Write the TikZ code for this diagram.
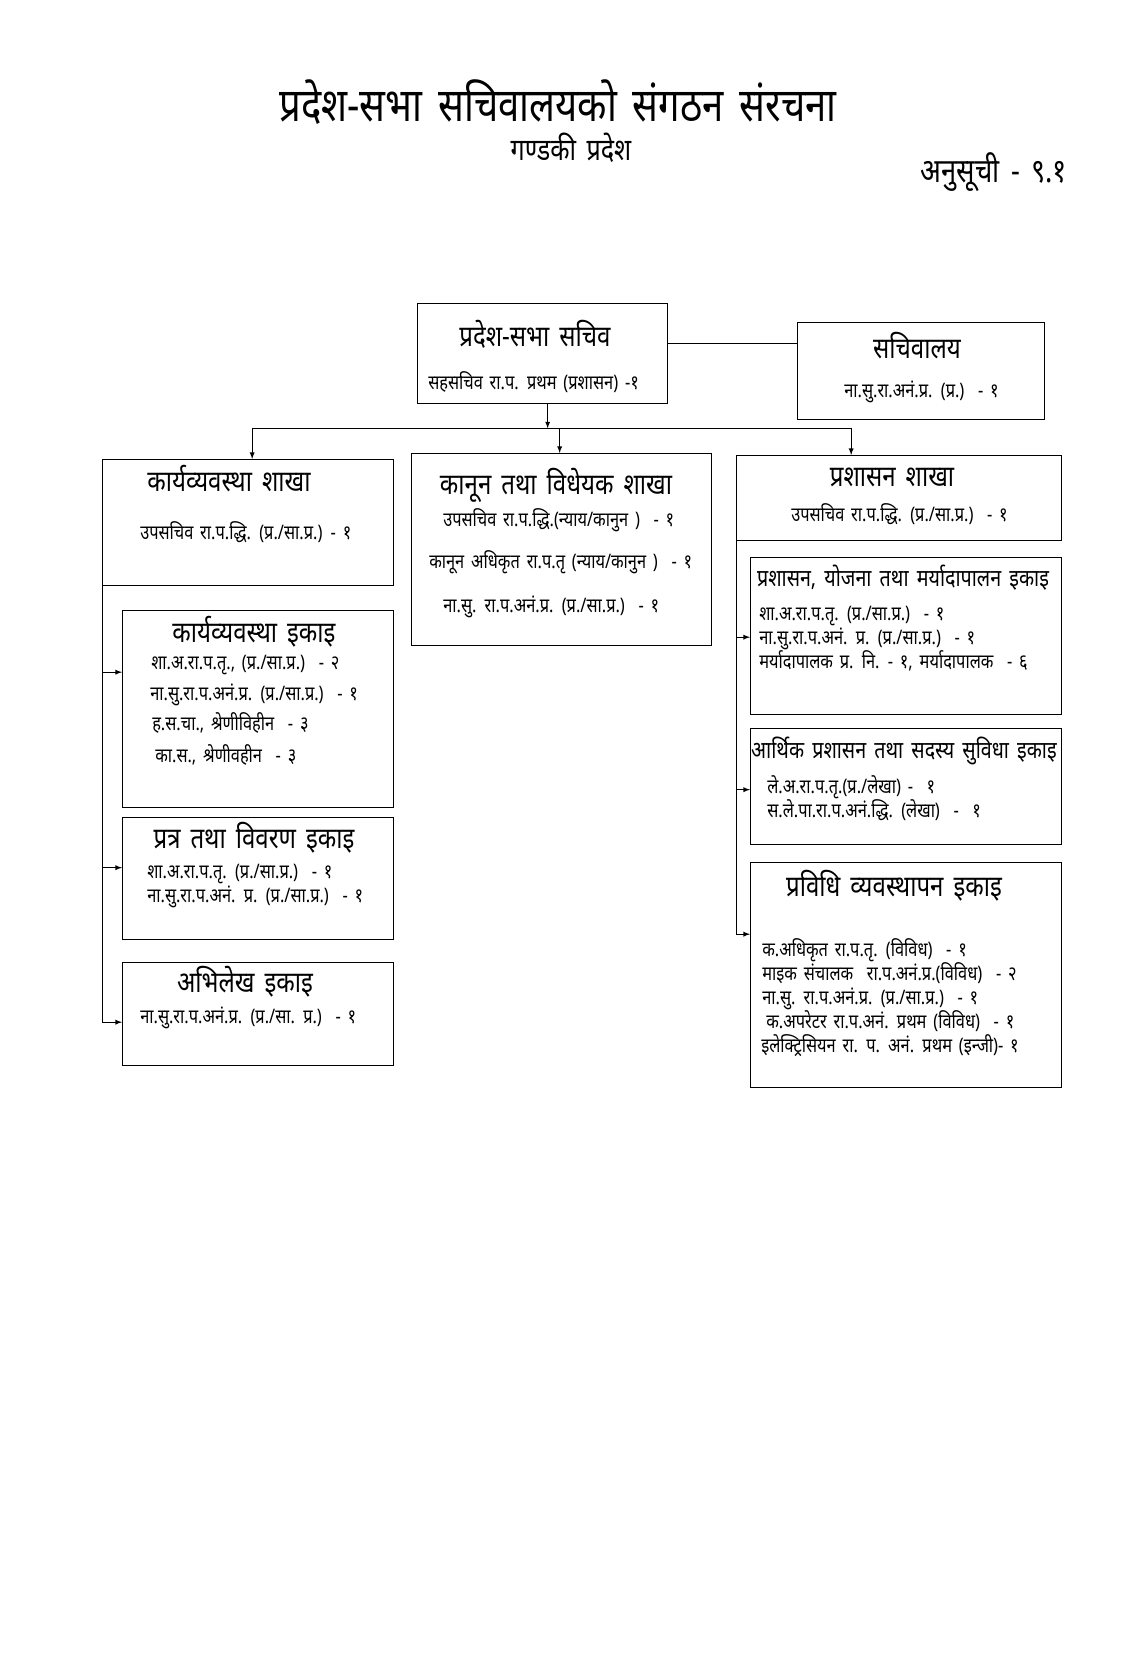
\documentclass[tikz,border=0pt]{standalone}
\usepackage{fontspec}
\newfontfamily\devfont[Script=Devanagari,FakeStretch=0.82,WordSpace=1.6]{Noto Sans}
\usetikzlibrary{calc}

\tikzset{
    box/.style 2 args={draw,line width=1pt,anchor=north west,inner sep=0pt,minimum width=#1*0.75pt,minimum height=#2*0.75pt},
    label/.style 2 args={font=\devfont\fontsize{#1}{#1}\selectfont,inner sep=0pt,text height=#2,text depth=0pt},
    head/.style={label={22}{13.6pt}},
    longhead/.style={label={18}{11.2pt}},
    entry/.style={label={15}{9.3pt},anchor=west},
    link/.style={line width=0.7pt}
}

\begin{document}
\begin{tikzpicture}[x=0.75pt,y=-0.75pt]
    \useasboundingbox (0,0) rectangle (1140,1654);

    % 1. Heading
    \node (ttl) at (558,107) [label={35}{21.5pt}] {प्रदेश-सभा सचिवालयको संगठन संरचना};
    \node (sub) at (571,151) [label={23}{14.5pt}] {गण्डकी प्रदेश};
    \node (anu) at (994,172) [label={25}{15.5pt}] {अनुसूची - ९.१};

    % 2. Top row (secretary, secretariat)
    \node (sab) at (417,303) [box={250}{100}] {};
    \node (sab-t) at (535,337) [head] {प्रदेश-सभा सचिव};
    \node (sab-1) at (428,383) [entry] {सहसचिव रा.प. प्रथम (प्रशासन) -१};

    \node (sal) at (797,322) [box={247}{97}] {};
    \node (sal-t) at (917,349) [head] {सचिवालय};
    \node (sal-1) at (844,391) [entry] {ना.सु.रा.अनं.प्र. (प्र.)\ \ - १};

    % 3. Branches
    \node (kvs) at (102,459) [box={291}{126}] {};
    \node (kvs-t) at (229,482) [head] {कार्यव्यवस्था शाखा};
    \node (kvs-1) at (140,533) [entry] {उपसचिव रा.प.द्धि. (प्र./सा.प्र.) - १};

    \node (kan) at (411,453) [box={300}{192}] {};
    \node (kan-t) at (556,485) [head] {कानून तथा विधेयक शाखा};
    \node (kan-1) at (443,520) [entry] {उपसचिव रा.प.द्धि.(न्याय/कानुन )\ \ - १};
    \node (kan-2) at (429,562) [entry] {कानून अधिकृत रा.प.तृ (न्याय/कानुन )\ \ - १};
    \node (kan-3) at (443,606) [entry] {ना.सु. रा.प.अनं.प्र. (प्र./सा.प्र.)\ \ - १};

    \node (pra) at (736,455) [box={325}{85}] {};
    \node (pra-t) at (892,477) [head] {प्रशासन शाखा};
    \node (pra-1) at (791,515) [entry] {उपसचिव रा.प.द्धि. (प्र./सा.प्र.)\ \ - १};

    % 4. Units under the left branch
    \node (kvi) at (122,610) [box={271}{197}] {};
    \node (kvi-t) at (254,633) [head] {कार्यव्यवस्था इकाइ};
    \node (kvi-1) at (151,663) [entry] {शा.अ.रा.प.तृ., (प्र./सा.प्र.)\ \ - २};
    \node (kvi-2) at (150,694) [entry] {ना.सु.रा.प.अनं.प्र. (प्र./सा.प्र.)\ \ - १};
    \node (kvi-3) at (152,724) [entry] {ह.स.चा., श्रेणीविहीन\ \ - ३};
    \node (kvi-4) at (155,756) [entry] {का.स., श्रेणीवहीन\ \ - ३};

    \node (pat) at (122,817) [box={271}{122}] {};
    \node (pat-t) at (254,839) [head] {प्रत्र तथा विवरण इकाइ};
    \node (pat-1) at (147,872) [entry] {शा.अ.रा.प.तृ. (प्र./सा.प्र.)\ \ - १};
    \node (pat-2) at (147,896) [entry] {ना.सु.रा.प.अनं. प्र. (प्र./सा.प्र.)\ \ - १};

    \node (abh) at (122,962) [box={271}{103}] {};
    \node (abh-t) at (245,983) [head] {अभिलेख इकाइ};
    \node (abh-1) at (140,1017) [entry] {ना.सु.रा.प.अनं.प्र. (प्र./सा. प्र.)\ \ - १};

    % 5. Units under the right branch
    \node (yoj) at (750,557) [box={311}{157}] {};
    \node (yoj-t) at (903,579) [longhead] {प्रशासन, योजना तथा मर्यादापालन इकाइ};
    \node (yoj-1) at (759,614) [entry] {शा.अ.रा.प.तृ. (प्र./सा.प्र.)\ \ - १};
    \node (yoj-2) at (759,638) [entry] {ना.सु.रा.प.अनं. प्र. (प्र./सा.प्र.)\ \ - १};
    \node (yoj-3) at (759,662) [entry] {मर्यादापालक प्र. नि. - १, मर्यादापालक\ \ - ६};

    \node (art) at (750,728) [box={311}{116}] {};
    \node (art-t) at (904,751) [longhead] {आर्थिक प्रशासन तथा सदस्य सुविधा इकाइ};
    \node (art-1) at (767,787) [entry] {ले.अ.रा.प.तृ.(प्र./लेखा) -\ \ १};
    \node (art-2) at (767,811) [entry] {स.ले.पा.रा.प.अनं.द्धि. (लेखा)\ \ -\ \ १};

    \node (prv) at (750,862) [box={311}{225}] {};
    \node (prv-t) at (894,887) [head] {प्रविधि व्यवस्थापन इकाइ};
    \node (prv-1) at (762,950) [entry] {क.अधिकृत रा.प.तृ. (विविध)\ \ - १};
    \node (prv-2) at (762,974) [entry] {माइक संचालक\ \ रा.प.अनं.प्र.(विविध)\ \ - २};
    \node (prv-3) at (762,998) [entry] {ना.सु. रा.प.अनं.प्र. (प्र./सा.प्र.)\ \ - १};
    \node (prv-4) at (766,1022) [entry] {क.अपरेटर रा.प.अनं. प्रथम (विविध)\ \ - १};
    \node (prv-5) at (761,1046) [entry] {इलेक्ट्रिसियन रा. प. अनं. प्रथम (इन्जी)- १};

    % 6. Connections
    \draw[link] ($(sab.east)+(0,-10)$) coordinate (c0) -- (c0 -| sal.west);
    \coordinate (bus) at ($(sab.south)+(5,24)$);
    \draw[link,-latex] ($(sab.south)+(5,0)$) -- (bus);

    \coordinate (da) at ($(kvs.north)+(4,0)$);
    \coordinate (db) at ($(kan.north)+(-2,0)$);
    \coordinate (dc) at ($(pra.north)+(-48,0)$);
    \draw[link] (da |- bus) -- (dc |- bus);
    \draw[link,-latex] (da |- bus) -- (da);
    \draw[link,-latex] (db |- bus) -- (db);
    \draw[link,-latex] (dc |- bus) -- (dc);

    % Left spine
    \coordinate (la) at ($(kvi.west)+(0,-37)$);
    \coordinate (lb) at ($(pat.west)+(0,-11)$);
    \coordinate (lc) at ($(abh.west)+(0,8)$);
    \draw[link,-latex] (kvs.south west) |- (lc);
    \draw[link,-latex] (kvs.south west |- la) -- (la);
    \draw[link,-latex] (kvs.south west |- lb) -- (lb);

    % Right spine
    \coordinate (ra) at ($(yoj.west)+(0,1)$);
    \coordinate (rb) at ($(art.west)+(0,3)$);
    \coordinate (rc) at ($(prv.west)+(0,-41)$);
    \draw[link,-latex] (pra.south west) |- (rc);
    \draw[link,-latex] (pra.south west |- ra) -- (ra);
    \draw[link,-latex] (pra.south west |- rb) -- (rb);
\end{tikzpicture}
\end{document}
